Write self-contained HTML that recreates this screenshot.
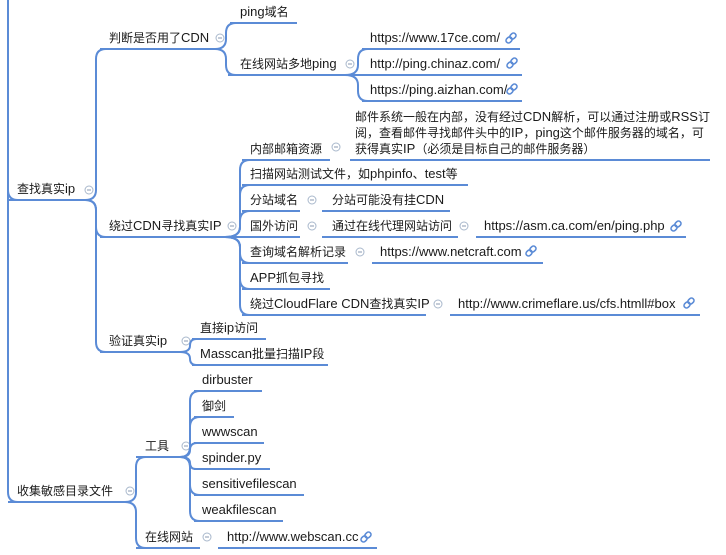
<!DOCTYPE html>
<html><head><meta charset="utf-8">
<style>
html,body{margin:0;padding:0;background:#fff;width:726px;height:555px;overflow:hidden}
svg text{font-family:"Liberation Sans","Noto Sans CJK SC",sans-serif;font-size:13px;fill:#1a1a1a}
svg tspan.c{font-size:12px}
</style></head><body>
<svg id="s" width="726" height="555" xmlns="http://www.w3.org/2000/svg"></svg>
<script>
const S=document.getElementById('s');const C='#5b8bd6';
let h='';
function ln(x1,x2,y){h+=`<line x1="${x1}" y1="${y}" x2="${x2}" y2="${y}" stroke="${C}" stroke-width="2"/>`;}
function tx(x,y,t){
 const s=t.replace(/([^\x00-\x7f]+)/g,'<tspan class="c">$1</tspan>');
 h+=`<text x="${x}" y="${y}">${s}</text>`;}
function circ(x,y){h+=`<circle cx="${x}" cy="${y}" r="4" fill="#fff" stroke="#a9b8cc" stroke-width="1"/><line x1="${x-2}" y1="${y}" x2="${x+2}" y2="${y}" stroke="#8a9ab0" stroke-width="1"/>`;}
function link(x,y){h+=`<g transform="translate(${x},${y}) rotate(-45)" fill="none" stroke="${C}" stroke-width="1.6"><rect x="-6" y="-2.5" width="6.5" height="5" rx="2.5"/><rect x="-0.5" y="-2.5" width="6.5" height="5" rx="2.5"/></g>`;}
function node(t,x,uy,x1,x2){tx(x,uy-7,t);ln(x1,x2,uy);}
function br(px,py,bx,ys,cx){
 for(const cy of ys){
  const r=Math.min(10,Math.abs(cy-py)/2);
  if(Math.abs(cy-py)<1){h+=`<path d="M${px} ${py} L${cx} ${cy}" stroke="${C}" stroke-width="2" fill="none"/>`;continue;}
  const d=cy>py?1:-1;
  h+=`<path d="M${px} ${py} Q${bx} ${py} ${bx} ${py+d*r} L${bx} ${cy-d*r} Q${bx} ${cy} ${bx+r} ${cy} L${cx} ${cy}" stroke="${C}" stroke-width="2" fill="none"/>`;
 }
}
h+=`<path d="M8 0 L8 190 Q8 200 18 200" stroke="${C}" stroke-width="2" fill="none"/>`;
h+=`<path d="M8 0 L8 492 Q8 502 18 502" stroke="${C}" stroke-width="2" fill="none"/>`;
node('查找真实ip',17,200,8,85);circ(89,190);
node('收集敏感目录文件',17,502,8,125);circ(130,491);
br(85,200,96,[49,237,352],106);
node('判断是否用了CDN',109,49,100,215);circ(220,38);
node('绕过CDN寻找真实IP',109,237,100,225);circ(232,226);
node('验证真实ip',109,352,100,180);circ(186,341);
br(215,49,226,[23,75],236);
node('ping域名',240,23,230,297);
node('在线网站多地ping',240,75,228,345);circ(350,64);
br(345,75,358,[49,75,101],368);
node('https://www.17ce.com/',370,49,362,520);link(511,38);
node('http://ping.chinaz.com/',370,75,362,522);link(512,63);
node('https://ping.aizhan.com/',370,101,362,522);link(512,89);
br(225,237,240,[160,185,211,237,263,289,315],246);
node('内部邮箱资源',250,160,242,330);circ(336,147);
tx(355,121,'邮件系统一般在内部，没有经过CDN解析，可以通过注册或RSS订');
tx(355,137,'阅，查看邮件寻找邮件头中的IP，ping这个邮件服务器的域名，可');
tx(355,153,'获得真实IP（必须是目标自己的邮件服务器）');
ln(350,710,160);
node('扫描网站测试文件，如phpinfo、test等',250,185,242,468);
node('分站域名',250,211,242,300);circ(312,200);
node('分站可能没有挂CDN',332,211,322,450);
node('国外访问',250,237,242,300);circ(312,226);
node('通过在线代理网站访问',332,237,322,458);circ(464,226);
node('https://asm.ca.com/en/ping.php',484,237,476,686);link(676,226);
node('查询域名解析记录',250,263,242,348);circ(360,252);
node('https://www.netcraft.com',380,263,372,543);link(531,251);
node('APP抓包寻找',250,289,242,330);
node('绕过CloudFlare CDN查找真实IP',250,315,242,426);circ(438,304);
node('http://www.crimeflare.us/cfs.htmll#box',458,315,450,700);link(689,303);
br(180,352,190,[339,365],198);
node('直接ip访问',200,339,192,266);
node('Masscan批量扫描IP段',200,365,192,328);
br(125,502,136,[457,548],144);
node('工具',145,457,136,180);circ(186,446);
node('在线网站',145,548,136,200);circ(207,537);
node('http://www.webscan.cc',227,548,218,377);link(366,537);
br(180,457,190,[391,417,443,469,495,521],196);
node('dirbuster',202,391,194,262);
node('御剑',202,417,194,234);
node('wwwscan',202,443,194,264);
node('spinder.py',202,469,194,270);
node('sensitivefilescan',202,495,194,304);
node('weakfilescan',202,521,194,283);
S.innerHTML=h;
</script>
</body></html>
